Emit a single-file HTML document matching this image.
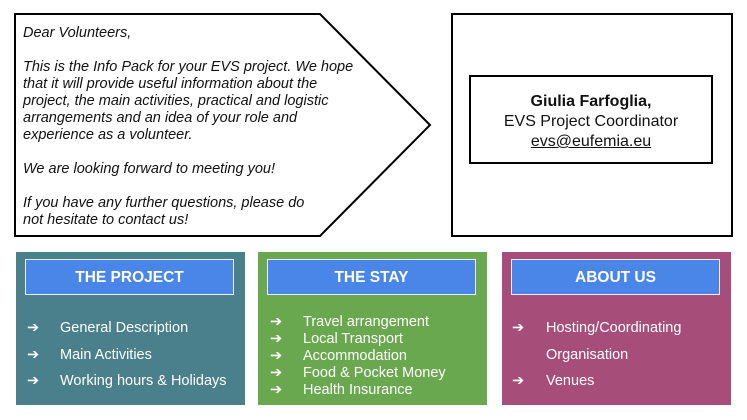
<!DOCTYPE html>
<html><head><meta charset="utf-8"><style>
body{margin:0;width:747px;height:420px;background:#fff;position:relative;overflow:hidden;font-family:"Liberation Sans",Arial,sans-serif}
.a{position:absolute}
.letter{left:23px;top:25px;font-style:italic;font-size:14.5px;line-height:17px;color:#111;white-space:nowrap}
.panel{top:252px;height:153px;width:229px}
.hdr{top:7px;left:9px;width:207px;height:34px;background:#4a86e8;border:1.5px solid #eef;color:#fff;font-weight:bold;font-size:15.5px;text-align:center;line-height:35px}
.it{color:#fff;font-size:14.5px;white-space:nowrap}
</style></head><body>
<svg class="a" style="left:0;top:0" width="747" height="245">
<polygon points="15,14 320,14 430,125 320,236 15,236" fill="#fff" stroke="#000" stroke-width="2"/>
<rect x="452" y="14" width="280" height="222" fill="#fff" stroke="#000" stroke-width="2"/>
<rect x="470" y="76" width="242" height="87" fill="#fff" stroke="#000" stroke-width="2"/>
</svg>
<div class="a letter">Dear Volunteers,<br><br>This is the Info Pack for your EVS project. We hope<br>that it will provide useful information about the<br>project, the main activities, practical and logistic<br>arrangements and an idea of your role and<br>experience as a volunteer.<br><br>We are looking forward to meeting you!<br><br>If you have any further questions, please do<br>not hesitate to contact us!</div>
<div class="a" style="left:470px;top:92px;width:242px;text-align:center;font-size:16px;line-height:20px;color:#111"><b>Giulia Farfoglia,</b><br>EVS Project Coordinator<br><u>evs@eufemia.eu</u></div>

<div class="a panel" style="left:16px;background:#4a7f8c"><div class="a hdr">THE PROJECT</div></div>
<div class="a panel" style="left:258px;background:#6aa84f"><div class="a hdr">THE STAY</div></div>
<div class="a panel" style="left:502px;background:#a64d79"><div class="a hdr">ABOUT US</div></div>

<div class="a it" style="left:27px;top:315px;line-height:26.5px">➔<br>➔<br>➔</div>
<div class="a it" style="left:60px;top:315px;line-height:26.5px">General Description<br>Main Activities<br>Working hours &amp; Holidays</div>

<div class="a it" style="left:270px;top:314px;line-height:17px">➔<br>➔<br>➔<br>➔<br>➔</div>
<div class="a it" style="left:303px;top:314px;line-height:17px">Travel arrangement<br>Local Transport<br>Accommodation<br>Food &amp; Pocket Money<br>Health Insurance</div>

<div class="a it" style="left:512px;top:315px;line-height:26.5px">➔<br><br>➔</div>
<div class="a it" style="left:546px;top:315px;line-height:26.5px">Hosting/Coordinating<br>Organisation<br>Venues</div>
</body></html>
